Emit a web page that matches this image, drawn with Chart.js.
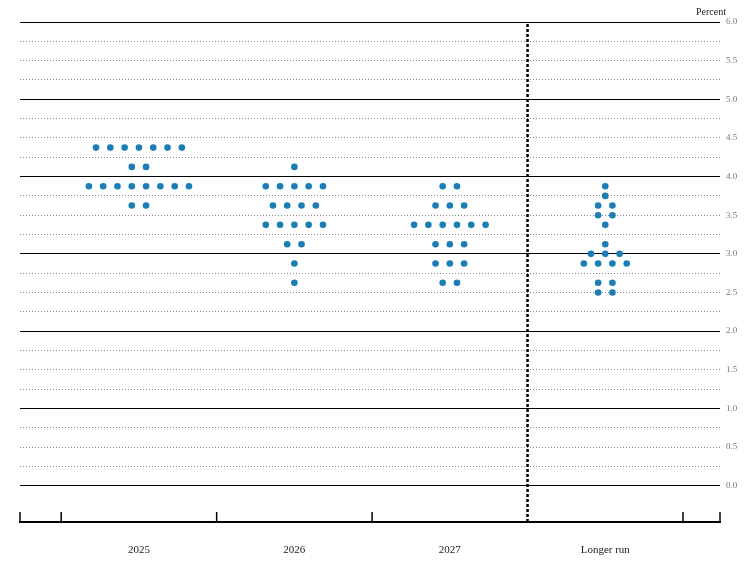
<!DOCTYPE html>
<html>
<head>
<meta charset="utf-8">
<script src="https://cdn.jsdelivr.net/npm/chart.js@4/dist/chart.umd.min.js"></script>
<style>
  body { margin: 0; background: #fff; }
  #wrap { width: 754px; height: 563px; }
</style>
</head>
<body>
<div id="wrap"><canvas id="grafica"></canvas></div>
<script>
const categorias = ["2025", "2026", "2027", "Longer run"]

// each category: rate levels and how many participants at each
const niveles2025 = [4.375, 4.125, 3.875, 3.625]
const conteo2025 = [7, 2, 8, 2]
const niveles2026 = [4.125, 3.875, 3.625, 3.375, 3.125, 2.875, 2.625]
const conteo2026 = [1, 5, 4, 5, 2, 1, 1]
const niveles2027 = [3.875, 3.625, 3.375, 3.125, 2.875, 2.625]
const conteo2027 = [2, 3, 6, 3, 3, 2]
const nivelesLargo = [3.875, 3.75, 3.625, 3.5, 3.375, 3.125, 3.0, 2.875, 2.625, 2.5]
const conteoLargo = [1, 1, 2, 2, 1, 1, 3, 4, 2, 2]

const etiquetasY = [0, 0.5, 1, 1.5, 2, 2.5, 3, 3.5, 4, 4.5, 5, 5.5, 6]

const separacion = 0.092

const generarPuntos = (centro, niveles, conteo) => {
   const puntos = []
   niveles.forEach((nivel, j) => {
      const n = conteo[j]
      for (let i = 0; i < n; i++) {
         puntos.push({ x: centro + (i - (n - 1) / 2) * separacion, y: nivel })
      }
   })
   return puntos
}

const puntos = [
   ...generarPuntos(1, niveles2025, conteo2025),
   ...generarPuntos(2, niveles2026, conteo2026),
   ...generarPuntos(3, niveles2027, conteo2027),
   ...generarPuntos(4, nivelesLargo, conteoLargo)
]

const Y_MIN = -0.47, Y_MAX = 6.0
const fuente = "'Liberation Serif', 'DejaVu Serif', serif"

const extras = {
   id: 'extras',
   afterDraw(chart) {
      const ctx = chart.ctx
      const x = chart.scales.x, y = chart.scales.y
      const fondo = y.getPixelForValue(Y_MIN)
      ctx.save()
      ctx.strokeStyle = '#000'
      ctx.lineWidth = 1.5
      ;[0.235, 0.5, 1.5, 2.5, 4.5, 4.738].forEach(v => {
         const px = x.getPixelForValue(v)
         ctx.beginPath()
         ctx.moveTo(px, fondo)
         ctx.lineTo(px, fondo - 10)
         ctx.stroke()
      })
      ctx.fillStyle = '#222'
      ctx.font = "10px " + fuente
      ctx.textAlign = 'right'
      ctx.fillText('Percent', 726, 15)
      ctx.restore()
   }
}

const ctx = document.getElementById('grafica').getContext('2d')

new Chart(ctx, {
   type: 'scatter',
   data: {
      datasets: [
         {
            label: 'dots',
            data: puntos,
            backgroundColor: '#1a7db3',
            borderWidth: 0,
            pointRadius: 3.3,
            pointHoverRadius: 3.3
         },
         {
            label: 'divisor',
            type: 'line',
            data: [{ x: 3.5, y: Y_MIN }, { x: 3.5, y: Y_MAX }],
            borderColor: '#000',
            borderWidth: 2.5,
            borderDash: [3, 2],
            pointRadius: 0,
            showLine: true
         }
      ]
   },
   options: {
      responsive: true,
      maintainAspectRatio: false,
      animation: false,
      events: [],
      layout: { padding: { left: 20, top: 22, right: 0, bottom: 0 } },
      plugins: { legend: { display: false }, tooltip: { enabled: false } },
      scales: {
         x: {
            type: 'linear',
            min: 0.235,
            max: 4.738,
            afterBuildTicks: (s) => { s.ticks = [1, 2, 3, 4].map(v => ({ value: v })) },
            afterFit: (s) => { s.height = 41 },
            ticks: {
               callback: (v) => categorias[v - 1],
               color: '#222',
               font: { family: fuente, size: 11 },
               padding: 14
            },
            grid: { display: false },
            border: { display: true, color: '#000', width: 2 }
         },
         y: {
            position: 'right',
            min: Y_MIN,
            max: Y_MAX,
            afterBuildTicks: (s) => {
               const t = []
               for (let v = 0; v <= 24; v++) t.push({ value: v * 0.25 })
               s.ticks = t
            },
            afterFit: (s) => { s.width = 34 },
            ticks: {
               callback: (v) => etiquetasY.includes(v) ? v.toFixed(1) : '',
               color: '#777',
               font: { family: fuente, size: 9 },
               padding: 6,
               autoSkip: false
            },
            grid: {
               drawTicks: false,
               color: (c) => Number.isInteger(c.tick.value) ? '#000' : 'transparent',
               lineWidth: 1
            },
            border: { display: false }
         },
         y2: {
            position: 'right',
            display: true,
            min: Y_MIN,
            max: Y_MAX,
            afterBuildTicks: (s) => {
               const t = []
               for (let v = 0; v <= 24; v++) t.push({ value: v * 0.25 })
               s.ticks = t
            },
            afterFit: (s) => { s.width = 0 },
            ticks: { display: false },
            grid: {
               drawTicks: false,
               color: (c) => Number.isInteger(c.tick.value) ? 'transparent' : '#888',
               lineWidth: 1
            },
            border: { display: false, dash: [1, 2] }
         }
      }
   },
   plugins: [extras]
})
</script>
</body>
</html>
